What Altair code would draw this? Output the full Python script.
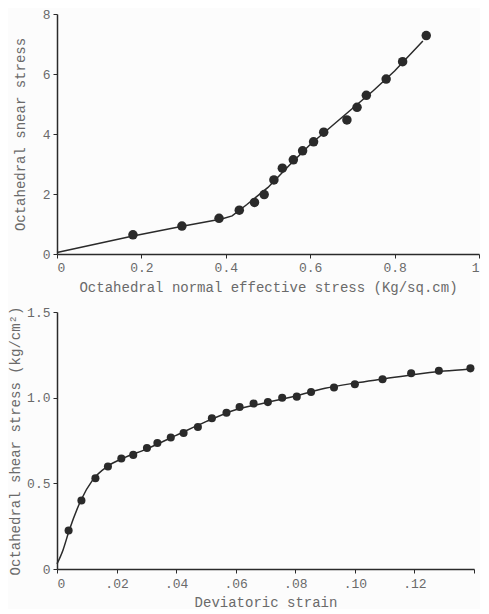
import altair as alt
import pandas as pd

# ---- Top panel data ----
top_x = [0.180, 0.296, 0.384, 0.432, 0.468, 0.491, 0.514, 0.534, 0.560, 0.582,
         0.608, 0.632, 0.687, 0.711, 0.733, 0.780, 0.819, 0.875]
top_y = [0.64, 0.93, 1.19, 1.46, 1.72, 1.98, 2.47, 2.86, 3.14, 3.44,
         3.74, 4.06, 4.47, 4.89, 5.29, 5.83, 6.41, 7.28]
top_line_x = [0.0, 0.18, 0.30, 0.39, 0.415, 0.45, 0.50, 0.55, 0.60, 0.65, 0.70, 0.75, 0.80, 0.867]
top_line_y = [0.05, 0.60, 0.93, 1.17, 1.27, 1.65, 2.22, 2.95, 3.65, 4.25, 4.85, 5.45, 6.10, 7.10]

# ---- Bottom panel data ----
bot_x = [0.0039, 0.0082, 0.0129, 0.0171, 0.0216, 0.0256, 0.0302, 0.0337, 0.0382, 0.0425,
         0.0473, 0.0520, 0.0569, 0.0613, 0.0660, 0.0708, 0.0756, 0.0805, 0.0853, 0.0930,
         0.1000, 0.1093, 0.1189, 0.1282, 0.1388]
bot_y = [0.225, 0.40, 0.53, 0.598, 0.645, 0.666, 0.706, 0.735, 0.768, 0.794,
         0.829, 0.880, 0.912, 0.945, 0.966, 0.974, 1.000, 1.006, 1.033, 1.059,
         1.078, 1.108, 1.143, 1.157, 1.171]
bot_line_x = [0.0, 0.002, 0.004, 0.008, 0.012, 0.017, 0.022, 0.030, 0.040, 0.050, 0.060,
              0.070, 0.080, 0.090, 0.100, 0.110, 0.120, 0.130, 0.1388]
bot_line_y = [0.03, 0.11, 0.22, 0.40, 0.52, 0.60, 0.645, 0.70, 0.78, 0.86, 0.93,
              0.97, 1.01, 1.055, 1.085, 1.11, 1.135, 1.155, 1.168]

FONT = "Liberation Mono"
TXT = "#6a6a6a"
INK = "#2a2a2a"

top_pts = pd.DataFrame({"x": top_x, "y": top_y})
top_ln = pd.DataFrame({"x": top_line_x, "y": top_line_y})
bot_pts = pd.DataFrame({"x": bot_x, "y": bot_y})
bot_ln = pd.DataFrame({"x": bot_line_x, "y": bot_line_y})

tx = alt.X("x:Q", scale=alt.Scale(domain=[0, 1], nice=False),
           axis=alt.Axis(title="Octahedral normal effective stress (Kg/sq.cm)",
                         values=[0, 0.2, 0.4, 0.6, 0.8, 1.0],
                         labelExpr="(datum.value == 0 || datum.value == 1) ? format(datum.value, 'd') : format(datum.value, '.1f')",
                         titlePadding=6))
ty = alt.Y("y:Q", scale=alt.Scale(domain=[0, 8], nice=False),
           axis=alt.Axis(title="Octahedral snear stress", values=[0, 2, 4, 6, 8],
                         format="d", titlePadding=15))

top = alt.layer(
    alt.Chart(top_ln).mark_line(color=INK, strokeWidth=1.5).encode(x=tx, y=ty),
    alt.Chart(top_pts).mark_circle(color=INK, size=90, opacity=1).encode(x="x:Q", y="y:Q"),
).properties(width=422, height=240)

bx = alt.X("x:Q", scale=alt.Scale(domain=[0, 0.14], nice=False),
           axis=alt.Axis(title="Deviatoric strain",
                         values=[0, 0.02, 0.04, 0.06, 0.08, 0.10, 0.12, 0.14],
                         labelExpr="datum.value == 0 ? '0' : (datum.value > 0.13 ? '' : replace(format(datum.value, '.2f'), '0.', '.'))",
                         labelPadding=4, titlePadding=5))
by = alt.Y("y:Q", scale=alt.Scale(domain=[0, 1.5], nice=False),
           axis=alt.Axis(title="Octahedral shear stress (kg/cm²)", values=[0, 0.5, 1.0, 1.5],
                         labelExpr="datum.value == 0 ? '0' : format(datum.value, '.1f')",
                         titlePadding=4))

bottom = alt.layer(
    alt.Chart(bot_ln).mark_line(color=INK, strokeWidth=1.5, interpolate="monotone").encode(x=bx, y=by),
    alt.Chart(bot_pts).mark_circle(color=INK, size=65, opacity=1).encode(x="x:Q", y="y:Q"),
).properties(width=417, height=257)

chart = alt.vconcat(top, bottom, spacing=12).properties(
    padding={"left": 0, "top": 0, "right": 0, "bottom": 0},
    background="#fcfcfc",
).configure_view(stroke=None).configure_axis(
    grid=False,
    labelFont=FONT, titleFont=FONT,
    labelFontSize=13, titleFontSize=14,
    labelColor=TXT, titleColor=TXT,
    titleFontWeight="normal",
    domainColor=INK, tickColor=INK, domainWidth=1.5,
    tickSize=4, labelPadding=3,
)

chart.save("out.html", embed_options={"renderer": "svg", "actions": False})
